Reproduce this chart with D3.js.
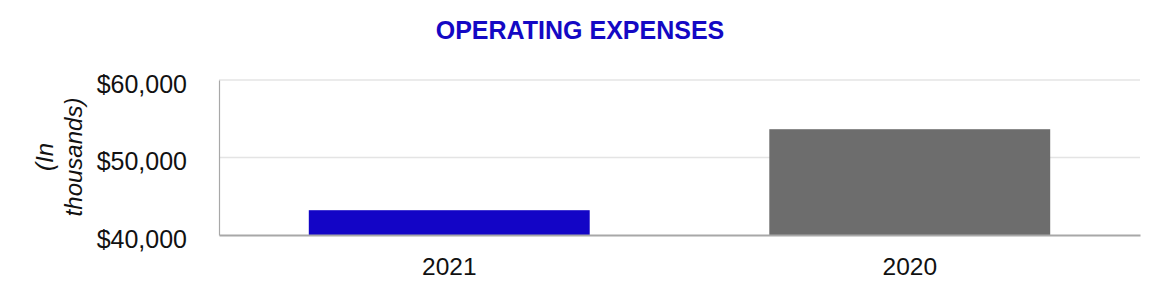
<!DOCTYPE html>
<html>
<head>
<meta charset="utf-8">
<script src="https://cdn.jsdelivr.net/npm/d3@7"></script>
<style>
  body { margin: 0; background: #fff; }
  text { font-family: "Liberation Sans", Arial, sans-serif; }
</style>
</head>
<body>
<div id="chart"></div>
<script>
const categories = ["2021", "2020"];
const values = [43200, 53650];
const barColors = ["#1305c6", "#6d6d6d"];
const yTicks = [40000, 50000, 60000];
const title = "OPERATING EXPENSES";
const yLabel = ["(In", "thousands)"];

const W = 1160, H = 300;
const margin = {top: 80, right: 20, bottom: 65, left: 219};
const width = W - margin.left - margin.right;
const height = 235 - margin.top;

const svg = d3.select("#chart").append("svg")
    .attr("width", W)
    .attr("height", H);

const g = svg.append("g")
    .attr("transform", "translate(" + margin.left + "," + margin.top + ")");

const x = d3.scaleBand().domain(categories).range([0, width]).paddingInner(0.39).paddingOuter(0.195);
const y = d3.scaleLinear().domain([40000, 60000]).range([height, 0]);

// gridlines
g.selectAll(".grid")
    .data(yTicks.slice(1))
    .enter()
    .append("line")
    .attr("x1", 0).attr("x2", width)
    .attr("y1", d => y(d)).attr("y2", d => y(d))
    .attr("stroke", "#e4e4e4")
    .attr("stroke-width", 1.5);

// bars
g.selectAll(".bar")
    .data(categories)
    .enter()
    .append("rect")
    .attr("x", d => x(d))
    .attr("width", x.bandwidth())
    .attr("y", (d, i) => y(values[i]))
    .attr("height", (d, i) => y(40000) - y(values[i]))
    .attr("fill", (d, i) => barColors[i]);

// y axis
const yAxis = d3.axisLeft(y).tickValues(yTicks).tickSize(0).tickPadding(32)
    .tickFormat(d => "$" + d3.format(",")(d));
const ya = g.append("g").call(yAxis);
ya.select(".domain").attr("stroke", "#a8a8a8").attr("stroke-width", 1.2);
ya.selectAll("text")
    .attr("font-size", 25)
    .attr("fill", "#111")
    .attr("dy", "0.48em")
    .style("font-family", "'Liberation Sans', Arial, sans-serif");

// x axis
const xAxis = d3.axisBottom(x).tickSize(0).tickPadding(23);
const xa = g.append("g").attr("transform", "translate(0," + height + ")").call(xAxis);
xa.select(".domain").attr("stroke", "#a8a8a8").attr("stroke-width", 2);
xa.selectAll("text")
    .attr("font-size", 24.5)
    .attr("fill", "#111")
    .style("font-family", "'Liberation Sans', Arial, sans-serif");

// title
svg.append("text")
    .attr("x", 580)
    .attr("y", 39)
    .attr("text-anchor", "middle")
    .attr("font-size", 25)
    .attr("font-weight", "bold")
    .attr("fill", "#1408c4")
    .text(title);

// y label
const yl = svg.append("text")
    .attr("transform", "translate(53,157) rotate(-90)")
    .attr("text-anchor", "middle")
    .attr("font-size", 24)
    .attr("font-style", "italic")
    .attr("fill", "#111");
yl.selectAll("tspan")
    .data(yLabel)
    .enter()
    .append("tspan")
    .attr("x", 0)
    .attr("dy", (d, i) => i === 0 ? 0 : 29)
    .text(d => d);
</script>
</body>
</html>
